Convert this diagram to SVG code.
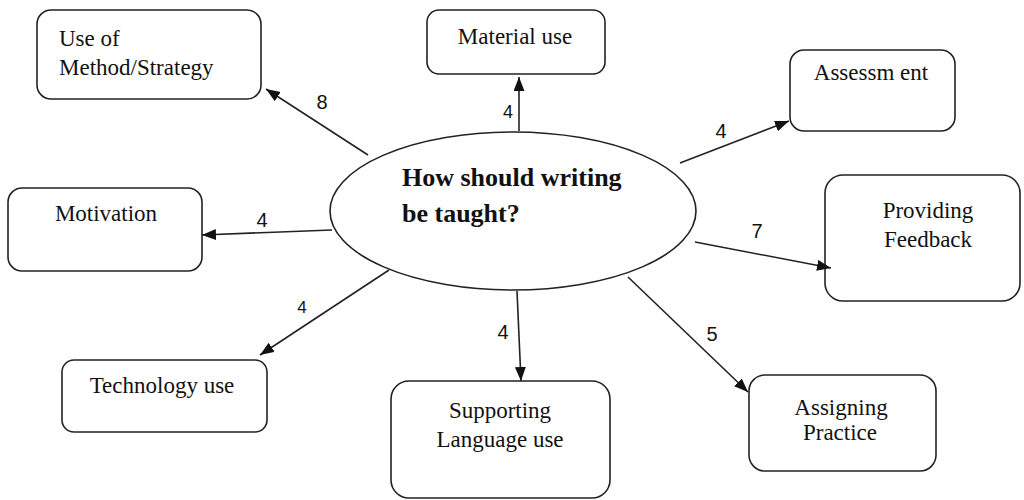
<svg xmlns="http://www.w3.org/2000/svg" width="1024" height="500" viewBox="0 0 1024 500">
<style>
.box{fill:#fff;stroke:#222;stroke-width:1.6}
.t{font-family:"Liberation Serif","Times New Roman",serif;font-size:23px;fill:#111}
.c{text-anchor:middle}
.title{font-family:"Liberation Serif","Times New Roman",serif;font-size:26px;font-weight:bold;fill:#111}
.num{font-family:"Liberation Sans",Arial,sans-serif;font-size:20px;fill:#111;text-anchor:middle}
.conn line{stroke:#222;stroke-width:1.6;marker-end:url(#ah)}
</style>
<defs>
<marker id="ah" markerUnits="userSpaceOnUse" markerWidth="15" markerHeight="12" refX="14" refY="5.5" orient="auto">
<path d="M0,0 L14,5.5 L0,11 z" fill="#111"/>
</marker>
</defs>
<rect width="1024" height="500" fill="#fff"/>
<g id="center">
<ellipse cx="513" cy="211" rx="183" ry="79" fill="#fff" stroke="#222" stroke-width="1.6"/>
<text class="title" x="402" y="186">How should writing</text>
<text class="title" x="402" y="222">be taught?</text>
</g>
<g id="method">
<rect class="box" x="37" y="10" width="224" height="89" rx="14"/>
<text class="t" x="59" y="46">Use of</text>
<text class="t" x="59" y="75">Method/Strategy</text>
</g>
<g id="material">
<rect class="box" x="427" y="10" width="178" height="64" rx="12"/>
<text class="t c" x="515" y="44">Material use</text>
</g>
<g id="assessment">
<rect class="box" x="790" y="50" width="165" height="81" rx="14"/>
<text class="t c" x="871" y="80">Assessm ent</text>
</g>
<g id="feedback">
<rect class="box" x="825" y="175" width="195" height="126" rx="18"/>
<text class="t c" x="928" y="218">Providing</text>
<text class="t c" x="928" y="247">Feedback</text>
</g>
<g id="motivation">
<rect class="box" x="8" y="188" width="194" height="83" rx="14"/>
<text class="t c" x="106" y="221">Motivation</text>
</g>
<g id="technology">
<rect class="box" x="62" y="360" width="205" height="72" rx="12"/>
<text class="t c" x="162" y="393">Technology use</text>
</g>
<g id="language">
<rect class="box" x="391" y="381" width="219" height="117" rx="18"/>
<text class="t c" x="500" y="418">Supporting</text>
<text class="t c" x="500" y="447">Language use</text>
</g>
<g id="practice">
<rect class="box" x="749" y="375" width="187" height="96" rx="16"/>
<text class="t c" x="841" y="415">Assigning</text>
<text class="t c" x="840" y="440">Practice</text>
</g>
<g id="connectors" class="conn">
<line x1="368" y1="155" x2="266" y2="89"/>
<line x1="332" y1="230" x2="202" y2="235"/>
<line x1="519" y1="131" x2="519" y2="77"/>
<line x1="680" y1="163" x2="789" y2="121"/>
<line x1="695" y1="242" x2="831" y2="268"/>
<line x1="389" y1="270" x2="260" y2="355"/>
<line x1="517" y1="291" x2="521" y2="381"/>
<line x1="628" y1="277" x2="748" y2="392"/>
</g>
<g id="labels">
<text class="num" x="322" y="109">8</text>
<text class="num" x="262" y="227">4</text>
<text class="num" x="508" y="118" style="font-size:18px">4</text>
<text class="num" x="721" y="138">4</text>
<text class="num" x="757" y="238">7</text>
<text class="num" x="302" y="313" style="font-size:17px">4</text>
<text class="num" x="503" y="339">4</text>
<text class="num" x="712" y="341">5</text>
</g>
</svg>
